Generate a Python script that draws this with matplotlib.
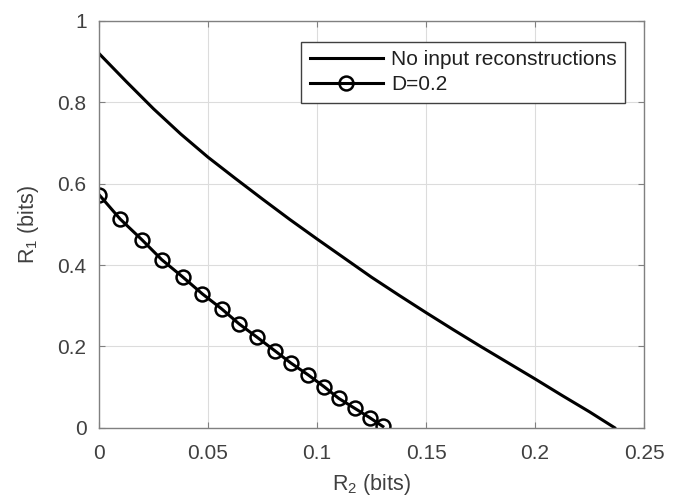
import numpy as np
import matplotlib.pyplot as plt

# "No input reconstructions" curve
r2_noinput = [0.0, 0.0125, 0.025, 0.0375, 0.05, 0.0625, 0.075, 0.0875,
              0.1, 0.1125, 0.125, 0.1375, 0.15, 0.1625, 0.175, 0.1875,
              0.2, 0.2125, 0.225, 0.2365]
r1_noinput = [0.920, 0.851, 0.784, 0.722, 0.665, 0.613, 0.562, 0.512,
              0.464, 0.417, 0.370, 0.326, 0.283, 0.241, 0.200, 0.160,
              0.120, 0.079, 0.039, 0.000]

# D=0.2 curve with markers
r2_d02 = [0.0, 0.0097, 0.0197, 0.0288, 0.0383, 0.0474, 0.0563, 0.0643,
          0.0726, 0.0807, 0.0880, 0.0959, 0.1032, 0.1100, 0.1172, 0.1241,
          0.1302]
r1_d02 = [0.573, 0.513, 0.462, 0.413, 0.371, 0.329, 0.292, 0.255,
          0.222, 0.189, 0.159, 0.130, 0.101, 0.072, 0.048, 0.025,
          0.003]

xticks = [0, 0.05, 0.1, 0.15, 0.2, 0.25]
xticklabels = ["0", "0.05", "0.1", "0.15", "0.2", "0.25"]
yticks = [0, 0.2, 0.4, 0.6, 0.8, 1.0]
yticklabels = ["0", "0.2", "0.4", "0.6", "0.8", "1"]

plt.rcParams["font.family"] = ["Liberation Sans", "DejaVu Sans"]
plt.rcParams["mathtext.fontset"] = "custom"
plt.rcParams["mathtext.rm"] = "Liberation Sans"
plt.rcParams["mathtext.it"] = "Liberation Sans:italic"

fig = plt.figure(figsize=(6.82, 5.03), dpi=100)
ax = fig.add_axes([0.1452, 0.1497, 0.7991, 0.8086])

ax.plot(r2_noinput, r1_noinput, color="black", linewidth=2.2,
        label="No input reconstructions")
ax.plot(r2_d02, r1_d02, color="black", linewidth=2.2, marker="o",
        markersize=10, markerfacecolor="none", markeredgewidth=1.8,
        label="D=0.2")

ax.set_xlim(0, 0.25)
ax.set_ylim(0, 1)
ax.set_xticks(xticks)
ax.set_xticklabels(xticklabels)
ax.set_yticks(yticks)
ax.set_yticklabels(yticklabels)

ax.grid(True, color="#dcdcdc", linewidth=0.8)
ax.set_axisbelow(True)
for spine in ax.spines.values():
    spine.set_color("#808080")
    spine.set_linewidth(1.0)
ax.tick_params(direction="in", length=4, width=0.8, colors="#808080",
               labelcolor="#404040", labelsize=15, top=True, right=True)
ax.tick_params(axis="x", pad=12)
ax.tick_params(axis="y", pad=9)

ax.set_xlabel("R$_2$ (bits)", fontsize=15.5, color="#404040", labelpad=6)
ax.set_ylabel("R$_1$ (bits)", fontsize=15.5, color="#404040", labelpad=12)

leg = ax.legend(loc="upper right", bbox_to_anchor=(0.965, 0.949),
                fontsize=15, handlelength=3.5, handletextpad=0.4,
                borderpad=0.4, labelspacing=0.3, borderaxespad=0,
                fancybox=False, framealpha=1, edgecolor="#404040")
leg.get_frame().set_linewidth(1.0)
for t in leg.get_texts():
    t.set_color("#202020")

fig.savefig("out.png", dpi=100)
